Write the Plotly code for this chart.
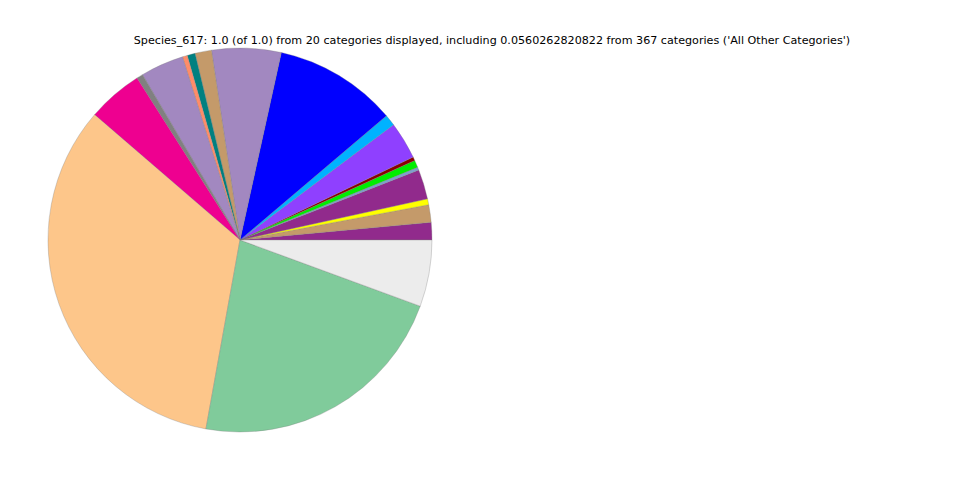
import plotly.graph_objects as go

categories = ["Cat_01", "Cat_02", "Cat_03", "Cat_04", "Cat_05", "Cat_06", "Cat_07",
              "Cat_08", "Cat_09", "Cat_10", "Cat_11", "Cat_12", "Cat_13", "Cat_14",
              "Cat_15", "Cat_16", "Cat_17", "Cat_18", "Cat_19", "All Other Categories"]
degrees = [5.3, 5.3, 1.8, 9.0, 0.9, 2.2, 1.1, 11.3, 3.4, 37.3,
           21.0, 5.0, 2.4, 1.5, 13.1, 1.9, 16.8, 120.6, 80.1]
values = [d / 360.0 for d in degrees] + [0.0560262820822]
colors = ["#912a8c", "#c49a6a", "#ffff00", "#912a8c", "#7f9fd0", "#00ee00", "#8b0000",
          "#8f40ff", "#00b2ff", "#0000ff", "#a288c0", "#c49a6a", "#008080", "#ff8c69",
          "#a288c0", "#808080", "#ee0090", "#fdc68a", "#80cb9b", "#ececec"]
title_text = ("Species_617: 1.0 (of 1.0) from 20 categories displayed, including "
              "0.0560262820822 from 367 categories ('All Other Categories')")

first_share = values[0] / sum(values) * 360.0

fig = go.Figure(go.Pie(
    labels=categories, values=values, sort=False, direction="counterclockwise",
    rotation=90 - first_share, textinfo="none", hoverinfo="label+value",
    marker=dict(colors=colors, line=dict(color="rgba(120,120,120,0.6)", width=0.5)),
    domain=dict(x=[40 / 960, 424 / 960], y=[1 - 424 / 480, 1 - 40 / 480]),
))
fig.update_layout(
    width=960, height=480, margin=dict(l=0, r=0, t=0, b=0),
    showlegend=False, paper_bgcolor="white", plot_bgcolor="white",
    title=dict(text=title_text, x=484 / 960, xanchor="center", y=1 - 32 / 480, yanchor="middle",
               font=dict(family="DejaVu Sans", size=11.15, color="black")),
)
fig.write_html("out.html")
